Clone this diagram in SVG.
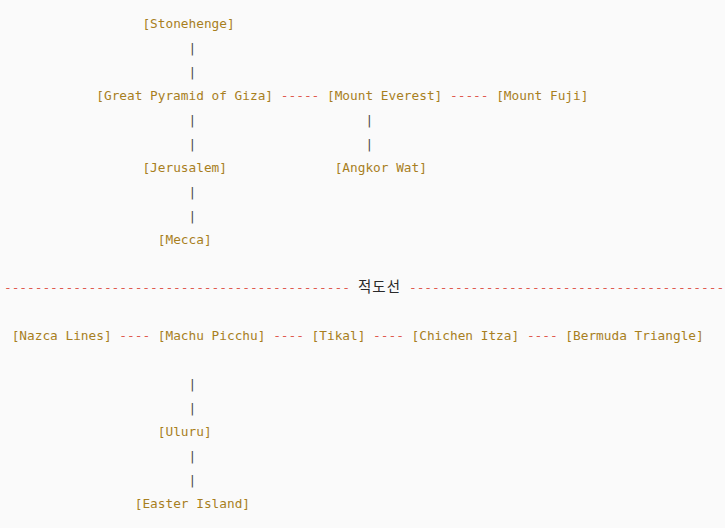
<svg xmlns="http://www.w3.org/2000/svg" width="725" height="528" viewBox="0 0 725 528">
<style>
text { font-family: "DejaVu Sans Mono", "Liberation Mono", monospace; font-size: 12.77px; }
.node text { fill: #a87f1e; }
.dash { fill: #e05a4f; }
.pipe { fill: #48484c; }
.eq { font-family: "Noto Sans CJK KR", "Noto Sans", sans-serif; font-size: 14.5px; fill: #2a2a2a; }
</style>
<rect width="725" height="528" fill="#fafafa"/>
<g id="connectors">
  <text class="pipe" x="188.56" y="52">|</text>
  <text class="pipe" x="188.56" y="76">|</text>
  <text class="dash" x="280.84" y="100">-----</text>
  <text class="dash" x="450.02" y="100">-----</text>
  <text class="pipe" x="188.56" y="124">|</text>
  <text class="pipe" x="188.56" y="148">|</text>
  <text class="pipe" x="365.43" y="124">|</text>
  <text class="pipe" x="365.43" y="148">|</text>
  <text class="pipe" x="188.56" y="196">|</text>
  <text class="pipe" x="188.56" y="220">|</text>
  <text class="dash" x="4" y="292">---------------------------------------------</text>
  <text class="dash" x="409" y="292">-----------------------------------------</text>
  <text class="dash" x="119.35" y="340">----</text>
  <text class="dash" x="273.15" y="340">----</text>
  <text class="dash" x="373.12" y="340">----</text>
  <text class="dash" x="526.92" y="340">----</text>
  <text class="pipe" x="188.56" y="388">|</text>
  <text class="pipe" x="188.56" y="412">|</text>
  <text class="pipe" x="188.56" y="460">|</text>
  <text class="pipe" x="188.56" y="484">|</text>
</g>
<g id="equator"><text class="eq" x="358" y="292" textLength="42">적도선</text></g>
<g id="stonehenge" class="node"><text x="142.42" y="28">[Stonehenge]</text></g>
<g id="giza" class="node"><text x="96.28" y="100">[Great Pyramid of Giza]</text></g>
<g id="everest" class="node"><text x="326.98" y="100">[Mount Everest]</text></g>
<g id="fuji" class="node"><text x="496.16" y="100">[Mount Fuji]</text></g>
<g id="jerusalem" class="node"><text x="142.42" y="172">[Jerusalem]</text></g>
<g id="angkor" class="node"><text x="334.67" y="172">[Angkor Wat]</text></g>
<g id="mecca" class="node"><text x="157.8" y="244">[Mecca]</text></g>
<g id="nazca" class="node"><text x="11.69" y="340">[Nazca Lines]</text></g>
<g id="machu" class="node"><text x="157.8" y="340">[Machu Picchu]</text></g>
<g id="tikal" class="node"><text x="311.6" y="340">[Tikal]</text></g>
<g id="chichen" class="node"><text x="411.57" y="340">[Chichen Itza]</text></g>
<g id="bermuda" class="node"><text x="565.37" y="340">[Bermuda Triangle]</text></g>
<g id="uluru" class="node"><text x="157.8" y="436">[Uluru]</text></g>
<g id="easter" class="node"><text x="134.73" y="508">[Easter Island]</text></g>
</svg>
